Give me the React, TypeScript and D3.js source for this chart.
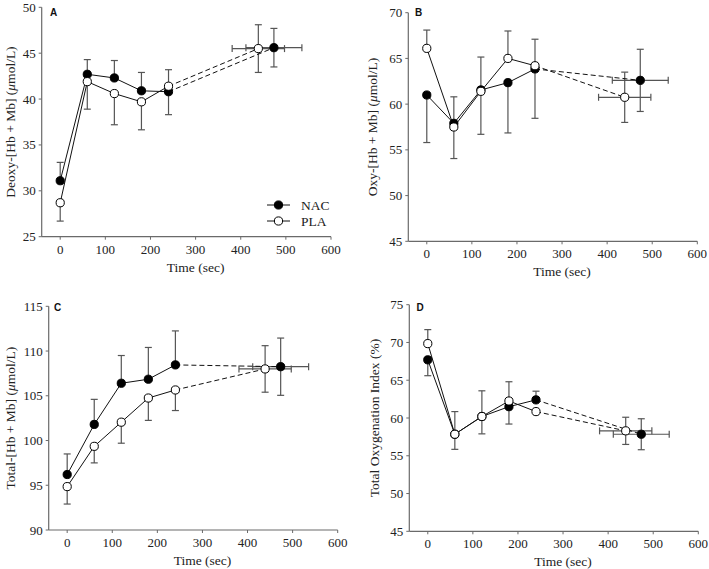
import * as d3 from "d3";

type Side = "up" | "down" | "both" | "none";

// time points (sec); the last point of each series is the end-of-exercise value
const times = [0, 60, 120, 180, 240];
const endTimeNAC = 473.5;
const endTimeNACsd = 62;
const endTimePLA = 439;
const endTimePLAsd = 58;

const xTicks = [0, 100, 200, 300, 400, 500, 600];

// A: Deoxy-[Hb + Mb]
const nacA = [31.1, 42.7, 42.3, 40.9, 40.8, 45.6];
const nacAsd = [2.0, 1.6, 1.9, 2.0, 2.5, 2.1];
const nacAside: Side[] = ["up", "up", "up", "up", "down", "both"];
const plaA = [28.7, 41.9, 40.6, 39.7, 41.4, 45.5];
const plaAsd = [2.0, 3.0, 3.4, 3.05, 1.8, 2.6];
const plaAside: Side[] = ["down", "down", "down", "down", "up", "both"];

// B: Oxy-[Hb + Mb]
const nacB = [61.0, 57.9, 61.55, 62.35, 63.85, 62.6];
const nacBsd = [5.2, 2.9, 3.6, 5.5, 5.4, 3.4];
const nacBside: Side[] = ["down", "up", "up", "down", "down", "both"];
const plaB = [66.1, 57.5, 61.4, 65.0, 64.2, 60.75];
const plaBsd = [2.0, 3.45, 4.7, 3.0, 2.9, 2.75];
const plaBside: Side[] = ["up", "down", "down", "up", "up", "both"];

// C: Total-[Hb + Mb]
const nacC = [96.2, 101.8, 106.4, 106.85, 108.45, 108.25];
const nacCsd = [2.3, 2.8, 3.1, 3.55, 3.8, 3.2];
const nacCside: Side[] = ["up", "up", "up", "up", "up", "both"];
const plaC = [94.85, 99.35, 102.05, 104.75, 105.65, 108.0];
const plaCsd = [1.95, 1.85, 2.35, 2.5, 2.3, 2.6];
const plaCside: Side[] = ["down", "down", "down", "down", "down", "both"];

// D: Total Oxygenation Index
const nacD = [67.7, 57.85, 60.2, 61.5, 62.4, 57.85];
const nacDsd = [2.1, 3.0, 3.4, 2.3, 1.15, 2.05];
const nacDside: Side[] = ["down", "up", "up", "down", "up", "both"];
const plaD = [69.85, 57.85, 60.2, 62.25, 60.85, 58.3];
const plaDsd = [1.85, 2.0, 2.3, 2.55, 0, 1.8];
const plaDside: Side[] = ["up", "down", "down", "up", "none", "both"];

const SERIF = "'Liberation Serif', 'Times New Roman', serif";
const SANS = "'Liberation Sans', Arial, sans-serif";
const AXIS = "#6a6a6a";
const ERR = "#555";

interface Series {
  values: number[];
  sd: number[];
  side: Side[];
  endT: number;
  endTsd: number;
  filled: boolean;
}

interface PanelProps {
  letter: string;
  left: number;
  right: number;
  top: number;
  bottom: number;
  yMin: number;
  yMax: number;
  yStep: number;
  titleX: number;
  letterX: number;
  letterY: number;
  yTitle: React.ReactNode;
  nac: Series;
  pla: Series;
  legend?: boolean;
}

const Panel = (p: PanelProps) => {
  const x = d3.scaleLinear().domain([-41, 600]).range([p.left, p.right]);
  const y = d3.scaleLinear().domain([p.yMin, p.yMax]).range([p.bottom, p.top]);
  const yTicks = d3.range(p.yMin, p.yMax + 0.01, p.yStep);
  const line = d3
    .line<[number, number]>()
    .x((d) => x(d[0]))
    .y((d) => y(d[1]));

  const pts = (s: Series) =>
    s.values.map((v, i) => [i < times.length ? times[i] : s.endT, v] as [number, number]);

  const errBars = (s: Series, key: string) =>
    pts(s).map(([t, v], i) => {
      const sd = s.sd[i];
      const side = s.side[i];
      const parts: JSX.Element[] = [];
      const cap = 3.5;
      if (side !== "none" && sd > 0) {
        const hi = side === "down" ? v : v + sd;
        const lo = side === "up" ? v : v - sd;
        parts.push(
          <line key="v" x1={x(t)} x2={x(t)} y1={y(hi)} y2={y(lo)} stroke={ERR} strokeWidth={1.2} />
        );
        if (side !== "down")
          parts.push(<line key="ch" x1={x(t) - cap} x2={x(t) + cap} y1={y(hi)} y2={y(hi)} stroke={ERR} strokeWidth={1.2} />);
        if (side !== "up")
          parts.push(<line key="cl" x1={x(t) - cap} x2={x(t) + cap} y1={y(lo)} y2={y(lo)} stroke={ERR} strokeWidth={1.2} />);
      }
      if (i === s.values.length - 1) {
        const l = x(t - s.endTsd);
        const r = x(t + s.endTsd);
        parts.push(<line key="h" x1={l} x2={r} y1={y(v)} y2={y(v)} stroke={ERR} strokeWidth={1.2} />);
        parts.push(<line key="hl" x1={l} x2={l} y1={y(v) - cap} y2={y(v) + cap} stroke={ERR} strokeWidth={1.2} />);
        parts.push(<line key="hr" x1={r} x2={r} y1={y(v) - cap} y2={y(v) + cap} stroke={ERR} strokeWidth={1.2} />);
      }
      return <g key={key + i}>{parts}</g>;
    });

  const lines = (s: Series, key: string) => {
    const ps = pts(s);
    return (
      <g key={key}>
        <path d={line(ps.slice(0, times.length)) ?? ""} fill="none" stroke="#111" strokeWidth={1} />
        <path
          d={line(ps.slice(times.length - 1)) ?? ""}
          fill="none"
          stroke="#111"
          strokeWidth={1}
          strokeDasharray="5,3"
        />
      </g>
    );
  };

  const markers = (s: Series, key: string) =>
    pts(s).map(([t, v], i) => (
      <circle
        key={key + i}
        cx={x(t)}
        cy={y(v)}
        r={4.1}
        fill={s.filled ? "#000" : "#fff"}
        stroke="#000"
        strokeWidth={1}
      />
    ));

  return (
    <g>
      {/* axes */}
      <line x1={p.left} x2={p.left} y1={p.top} y2={p.bottom} stroke={AXIS} strokeWidth={1.2} />
      <line x1={p.left} x2={p.right} y1={p.bottom} y2={p.bottom} stroke={AXIS} strokeWidth={1.2} />
      {yTicks.map((t) => (
        <g key={"y" + t}>
          <line x1={p.left - 3} x2={p.left} y1={y(t)} y2={y(t)} stroke={AXIS} />
          <text
            x={p.left - 6}
            y={y(t)}
            dy="0.35em"
            textAnchor="end"
            fontFamily={SERIF}
            fontSize={13}
            fill="#222"
          >
            {t}
          </text>
        </g>
      ))}
      {xTicks.map((t) => (
        <g key={"x" + t}>
          <line x1={x(t)} x2={x(t)} y1={p.bottom} y2={p.bottom + 3} stroke={AXIS} />
          <text
            x={x(t)}
            y={p.bottom + 17}
            textAnchor="middle"
            fontFamily={SERIF}
            fontSize={13}
            fill="#222"
          >
            {t}
          </text>
        </g>
      ))}
      <text
        x={x(300)}
        y={p.bottom + 35}
        textAnchor="middle"
        fontFamily={SERIF}
        fontSize={13.5}
        fill="#222"
      >
        Time (sec)
      </text>
      <text
        transform={`translate(${p.titleX},${(p.top + p.bottom) / 2}) rotate(-90)`}
        textAnchor="middle"
        dy="0.35em"
        fontFamily={SERIF}
        fontSize={13.5}
        fill="#222"
      >
        {p.yTitle}
      </text>
      <text x={p.letterX} y={p.letterY} fontFamily={SANS} fontWeight="bold" fontSize={10} fill="#111">
        {p.letter}
      </text>

      {errBars(p.nac, "en")}
      {errBars(p.pla, "ep")}
      {lines(p.nac, "ln")}
      {lines(p.pla, "lp")}
      {markers(p.nac, "mn")}
      {markers(p.pla, "mp")}

      {p.legend && (
        <g>
          <line x1={267} x2={290} y1={205} y2={205} stroke="#111" />
          <circle cx={278.5} cy={205} r={4.1} fill="#000" stroke="#000" />
          <text x={301} y={205} dy="0.35em" fontFamily={SERIF} fontSize={13.5} fill="#222">
            NAC
          </text>
          <line x1={267} x2={290} y1={221} y2={221} stroke="#111" />
          <circle cx={278.5} cy={221} r={4.1} fill="#fff" stroke="#000" />
          <text x={301} y={221} dy="0.35em" fontFamily={SERIF} fontSize={13.5} fill="#222">
            PLA
          </text>
        </g>
      )}
    </g>
  );
};

const mk = (values: number[], sd: number[], side: Side[], filled: boolean): Series => ({
  values,
  sd,
  side,
  filled,
  endT: filled ? endTimeNAC : endTimePLA,
  endTsd: filled ? endTimeNACsd : endTimePLAsd,
});

const mu = <tspan fontStyle="italic">μ</tspan>;

export default function App() {
  return (
    <div style={{ position: "absolute", left: 0, top: 0 }}>
      <svg width={709} height={569} style={{ display: "block", background: "#fff" }}>
        <Panel
          letter="A"
          left={41.7}
          right={331}
          top={7.3}
          bottom={236.7}
          yMin={25}
          yMax={50}
          yStep={5}
          titleX={10}
          letterX={50}
          letterY={16}
          yTitle={<>Deoxy-[Hb + Mb] ({mu}mol/L)</>}
          nac={mk(nacA, nacAsd, nacAside, true)}
          pla={mk(plaA, plaAsd, plaAside, false)}
          legend
        />
        <Panel
          letter="B"
          left={408.3}
          right={697.3}
          top={12.7}
          bottom={241.3}
          yMin={45}
          yMax={70}
          yStep={5}
          titleX={372}
          letterX={415}
          letterY={16}
          yTitle={<>Oxy-[Hb + Mb] ({mu}mol/L)</>}
          nac={mk(nacB, nacBsd, nacBside, true)}
          pla={mk(plaB, plaBsd, plaBside, false)}
        />
        <Panel
          letter="C"
          left={48.7}
          right={337.7}
          top={306.3}
          bottom={530}
          yMin={90}
          yMax={115}
          yStep={5}
          titleX={10}
          letterX={54}
          letterY={311}
          yTitle={<>Total-[Hb + Mb] ({mu}mol/L)</>}
          nac={mk(nacC, nacCsd, nacCside, true)}
          pla={mk(plaC, plaCsd, plaCside, false)}
        />
        <Panel
          letter="D"
          left={409.3}
          right={698.3}
          top={304.7}
          bottom={531.3}
          yMin={45}
          yMax={75}
          yStep={5}
          titleX={374}
          letterX={416.5}
          letterY={311}
          yTitle={<>Total Oxygenation Index (%)</>}
          nac={mk(nacD, nacDsd, nacDside, true)}
          pla={mk(plaD, plaDsd, plaDside, false)}
        />
      </svg>
    </div>
  );
}
